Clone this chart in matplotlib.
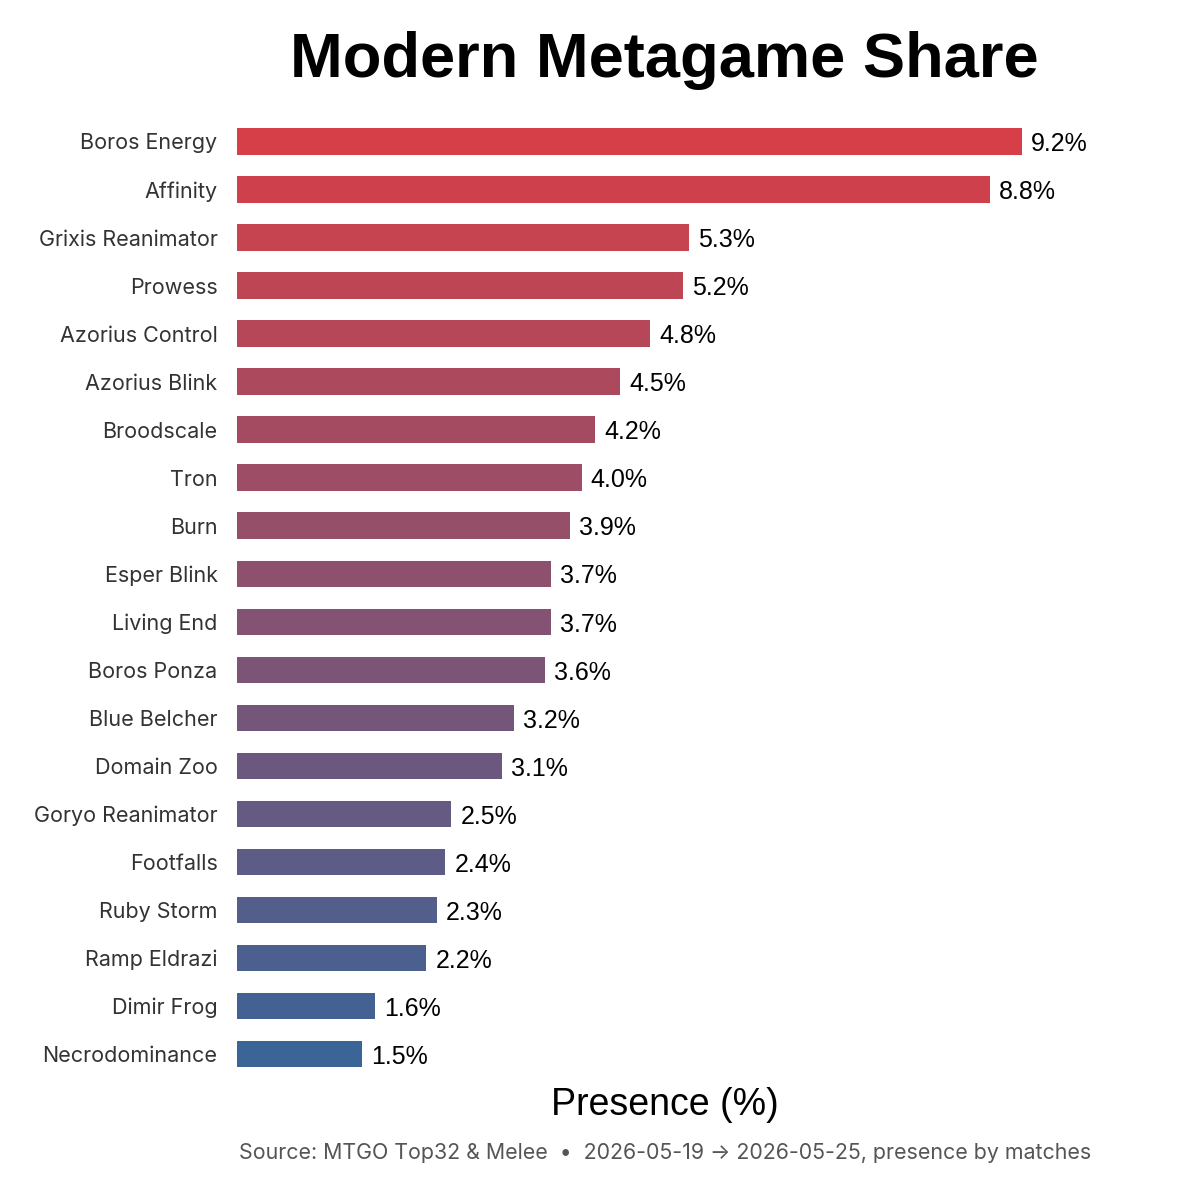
import numpy as np
import matplotlib
matplotlib.use("Agg")
import matplotlib.pyplot as plt
from matplotlib.colors import to_rgb

# deck names and presence by matches (%)
decks = ["Boros Energy", "Affinity", "Grixis Reanimator", "Prowess", "Azorius Control",
         "Azorius Blink", "Broodscale", "Tron", "Burn", "Esper Blink", "Living End",
         "Boros Ponza", "Blue Belcher", "Domain Zoo", "Goryo Reanimator", "Footfalls",
         "Ruby Storm", "Ramp Eldrazi", "Dimir Frog", "Necrodominance"]
presence = [9.2, 8.82, 5.30, 5.23, 4.84, 4.49, 4.20, 4.04, 3.90, 3.68, 3.68,
            3.61, 3.24, 3.10, 2.51, 2.44, 2.34, 2.22, 1.62, 1.47]

title = "Modern Metagame Share"
xlabel = "Presence (%)"
source = "Source: MTGO Top32 & Melee  \u2022  2026-05-19 \u2192 2026-05-25, presence by matches"

# red at the top fading to blue at the bottom
c_top = np.array(to_rgb("#d63f48"))
c_bot = np.array(to_rgb("#3b6497"))
t = np.linspace(0, 1, len(decks))
colors = [tuple(c_top * (1 - f) + c_bot * f) for f in t]

fig = plt.figure(figsize=(12, 12), dpi=100)
ax = fig.add_axes([0.1975, 0.0937, 0.7133, 0.8164])

y = np.arange(len(decks))
ax.barh(y, presence, height=0.55, color=colors)
ax.set_ylim(len(decks) - 1 + 0.7, -0.7)
ax.set_xlim(0, max(presence) * 1.09)

for yi, v in zip(y, presence):
    ax.annotate("%.1f%%" % v, xy=(v, yi), xytext=(6.5, -2), textcoords="offset points",
                va="center", ha="left", fontsize=18, family="Liberation Sans", color="black")

ax.set_yticks(y)
ax.set_yticklabels(decks, fontsize=15.5, family=["Inter", "DejaVu Sans"], color="#333333")
ax.tick_params(axis="y", length=0, pad=14)
ax.set_xticks([])
for s in ax.spines.values():
    s.set_visible(False)

fig.text(0.554, 1 - 61 / 1200, title, ha="center", va="center", fontsize=45.5,
         fontweight="bold", family="Liberation Sans")
fig.text(0.554, 1 - 1105 / 1200, xlabel, ha="center", va="center", fontsize=27,
         family="Liberation Sans")
fig.text(0.554, 1 - 1153 / 1200, source, ha="center", va="center", fontsize=15.4,
         family=["Inter", "DejaVu Sans"], color="#555555")

fig.savefig("out.png", dpi=100, facecolor="white")
